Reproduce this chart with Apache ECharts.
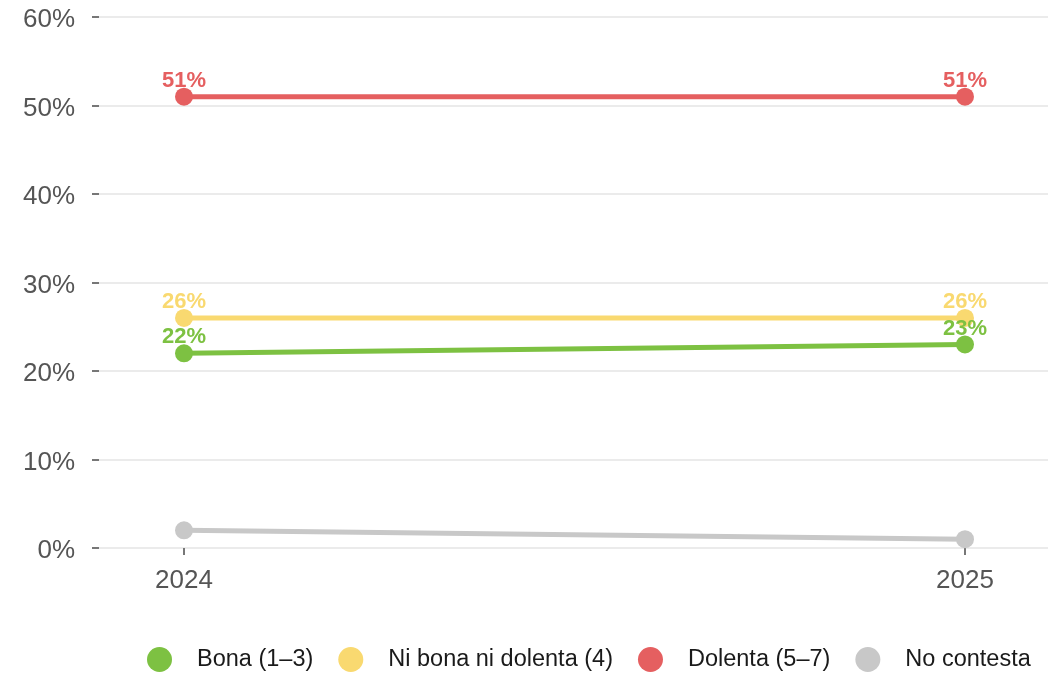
<!DOCTYPE html>
<html>
<head>
<meta charset="utf-8">
<script src="https://cdn.jsdelivr.net/npm/echarts@6/dist/echarts.min.js"></script>
<style>
  html, body { margin: 0; padding: 0; background: #fff; }
  #chart { width: 1063px; height: 677px; }
</style>
</head>
<body>
<div id="chart"></div>
<script>
// 数据
const years = [2024, 2025];
const bona = [22, 23];
const niBona = [26, 26];
const dolenta = [51, 51];
const noContesta = [2, 1];
const seriesNames = ['Bona (1–3)', 'Ni bona ni dolenta (4)', 'Dolenta (5–7)', 'No contesta'];
const yTicks = [0, 10, 20, 30, 40, 50, 60];

const colors = ['#7dc142', '#f9d970', '#e55f60', '#c8c8c8'];
const font = '"Liberation Sans", Arial, sans-serif';

const chart = echarts.init(document.getElementById('chart'));

const pairs = vals => years.map((y, i) => [y, vals[i]]);

const makeSeries = (name, vals, color, showLabel) => ({
  name: name,
  type: 'line',
  data: pairs(vals),
  symbol: 'circle',
  symbolSize: 18,
  lineStyle: {color: color, width: 5},
  itemStyle: {color: color},
  label: {
    show: showLabel,
    position: 'top',
    distance: 2,
    offset: [0, 6],
    color: color,
    fontFamily: font,
    fontWeight: 'bold',
    fontSize: 22,
    formatter: p => p.value[1] + '%'
  },
  emphasis: {disabled: true}
});

// x轴两端留白（按像素比例）
const span = years[1] - years[0];
const option = {
  animation: false,
  color: colors,
  grid: {left: 99, right: 15, top: 17, bottom: 129},
  xAxis: {
    type: 'value',
    min: years[0] - span * 85 / 781,
    max: years[1] + span * 83 / 781,
    axisLine: {show: false},
    splitLine: {show: false},
    axisTick: {show: true, customValues: years, length: 7, lineStyle: {color: '#777', width: 2}},
    axisLabel: {
      customValues: years,
      color: '#555',
      fontFamily: font,
      fontSize: 26,
      margin: 20,
      formatter: v => String(v)
    }
  },
  yAxis: {
    type: 'value',
    min: yTicks[0],
    max: yTicks[yTicks.length - 1],
    interval: 10,
    axisLine: {show: false},
    axisTick: {show: true, length: 7, lineStyle: {color: '#777', width: 2}},
    splitLine: {lineStyle: {color: '#ebebeb', width: 2}},
    axisLabel: {
      margin: 24,
      formatter: v => '{t|' + v + '%}',
      rich: {
        // 文字略微下移
        t: {color: '#555', fontFamily: font, fontSize: 26, padding: [6, 0, 0, 0]}
      }
    }
  },
  legend: {
    data: seriesNames,
    left: 142,
    bottom: 0,
    icon: 'circle',
    itemWidth: 25,
    itemHeight: 25,
    itemGap: 25,
    textStyle: {color: '#1a1a1a', fontFamily: font, fontSize: 23.5, padding: [0, 0, 0, 20]}
  },
  series: [
    makeSeries(seriesNames[3], noContesta, colors[3], false),
    makeSeries(seriesNames[0], bona, colors[0], true),
    makeSeries(seriesNames[1], niBona, colors[1], true),
    makeSeries(seriesNames[2], dolenta, colors[2], true)
  ]
};

chart.setOption(option);
</script>
</body>
</html>
